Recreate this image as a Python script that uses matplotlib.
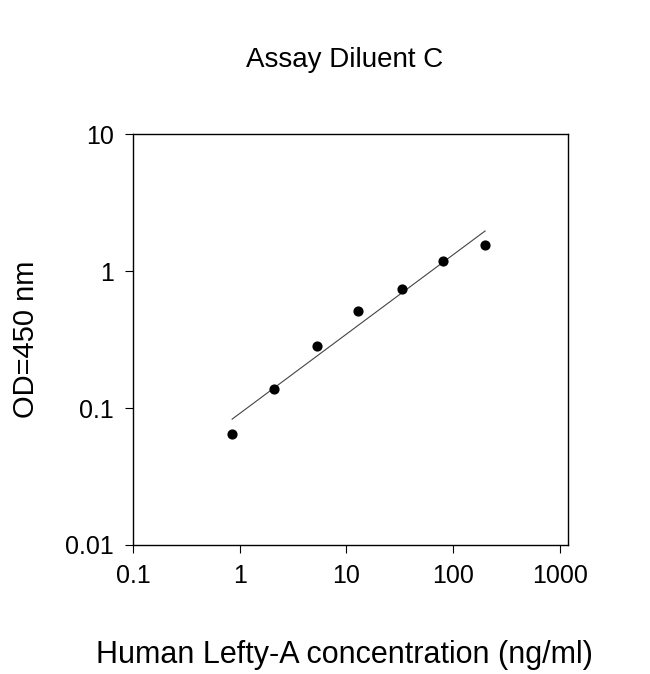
import numpy as np
import matplotlib
matplotlib.use("Agg")
import matplotlib.pyplot as plt
from matplotlib.ticker import FixedLocator, NullLocator

plt.rcParams['font.family'] = ['Liberation Sans', 'DejaVu Sans']

conc = [0.85, 2.1, 5.3, 13, 33, 80, 200]
od = [0.065, 0.138, 0.284, 0.51, 0.74, 1.18, 1.55]
xticks = [0.1, 1, 10, 100, 1000]
xticklabels = ['0.1', '1', '10', '100', '1000']
yticks = [0.01, 0.1, 1, 10]
yticklabels = ['0.01', '0.1', '1', '10']

fig = plt.figure(figsize=(6.5, 6.74), dpi=100)
ax = fig.add_axes([0.2046, 0.1914, 0.874 - 0.2046, 0.801 - 0.1914])
ax.set_xscale('log'); ax.set_yscale('log')
ax.set_xlim(0.1, 1200); ax.set_ylim(0.01, 10)

lx = np.log10(conc); ly = np.log10(od)
b, a = np.polyfit(lx, ly, 1)
xx = np.array([conc[0], conc[-1]])
ax.plot(xx, 10 ** (a + b * np.log10(xx)), color='#444444', lw=0.8)
ax.scatter(conc, od, s=40, color='black', zorder=3)

ax.xaxis.set_major_locator(FixedLocator(xticks))
ax.set_xticklabels(xticklabels)
ax.yaxis.set_major_locator(FixedLocator(yticks))
ax.set_yticklabels(yticklabels)
ax.xaxis.set_minor_locator(NullLocator()); ax.yaxis.set_minor_locator(NullLocator())
ax.tick_params(direction='out', length=6, labelsize=18, pad=8)
for s in ax.spines.values():
    s.set_linewidth(1)

fig.text(0.53, 0.911, 'Assay Diluent C', ha='center', va='center', fontsize=20)
fig.text(0.53, 0.028, 'Human Lefty-A concentration (ng/ml)', ha='center', va='center', fontsize=22)
fig.text(0.04, 0.496, 'OD=450 nm', rotation=90, ha='center', va='center', fontsize=21)

fig.savefig('out.png', dpi=100)
